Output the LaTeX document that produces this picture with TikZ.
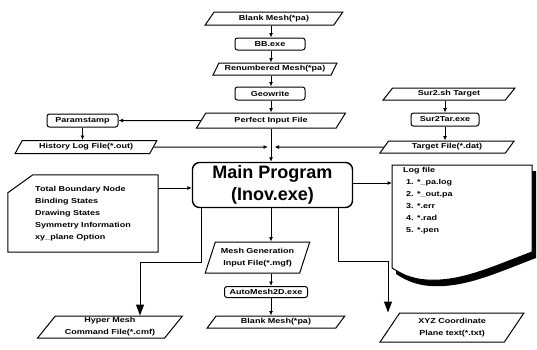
\documentclass[tikz,border=0pt]{standalone}
\usepackage{fontspec}
\setmainfont{Liberation Sans}
\newfontfamily\lblfont[FakeStretch=1.25]{Liberation Sans}
\usetikzlibrary{shapes.geometric,arrows.meta,calc}
\tikzset{
 lbl/.style={font=\lblfont\fontsize{7.2}{12}\selectfont\bfseries},
 io/.style={lbl, draw, line width=1pt, trapezium, trapezium left angle=52, trapezium right angle=128, trapezium stretches=true, inner sep=0pt, align=center},
 proc/.style={lbl, draw, line width=1pt, rounded corners=2.5pt, inner sep=0pt, align=center},
 mainbox/.style={draw, line width=1.4pt, rounded corners=7pt, inner sep=0pt, align=center, minimum width=160pt, minimum height=45pt, font=\fontsize{18}{22}\selectfont\bfseries},
 conn/.style={line width=1pt, -{Latex[length=4.5pt,width=4pt]}},
 bigconn/.style={line width=1pt, -{Triangle[length=11pt,width=8pt]}},
 plain/.style={line width=1pt},
}
\begin{document}
\begin{tikzpicture}[x=1pt,y=-1pt]
\useasboundingbox (0,0) rectangle (537,349);
% top chain
\node[io, minimum width=138pt, minimum height=13pt] (bm1) at (274,18.5) {Blank Mesh(*pa)};
\node[proc, minimum width=70pt, minimum height=12pt] (bb) at (270,44) {BB.exe};
\node[io, minimum width=124pt, minimum height=12pt] (rm) at (275,69) {Renumbered Mesh(*pa)};
\node[proc, minimum width=70pt, minimum height=13pt] (geo) at (270,93.5) {Geowrite};
\node[io, minimum width=150pt, minimum height=15pt] (pif) at (271,120.5) {Perfect Input File};
% left top
\node[proc, minimum width=71pt, minimum height=13pt] (par) at (82.5,120.5) {Paramstamp};
\node[io, minimum width=142pt, minimum height=13pt] (hlf) at (86,147) {History Log File(*.out)};
% right top
\node[io, minimum width=132pt, minimum height=12pt] (sst) at (449,94) {Sur2.sh Target};
\node[proc, minimum width=68pt, minimum height=13pt] (s2t) at (445,119.5) {Sur2Tar.exe};
\node[io, minimum width=135pt, minimum height=12pt] (tf) at (447,147) {Target File(*.dat)};
% main
\node[mainbox] (main) at (272.5,185) {Main Program\\(Inov.exe)};
% info box
\node[lbl, align=left, minimum width=150pt, minimum height=77pt, inner sep=0pt] (info) at (83,213.5)
 {Total Boundary Node\\Binding States\\Drawing States\\Symmetry Information\\xy\_plane Option};
\draw[plain] ($(info.north west)+(25,0)$) -- (info.north east) -- (info.south east) -- (info.south west) -- ($(info.north west)+(0,18)$) -- cycle;
% log file
\fill[black] (396,171) -- (536,171) -- (536,258) .. controls (494,274) and (464,288) .. (431,286) .. controls (414,285) and (404,279) .. (396,274) -- cycle;
\filldraw[fill=white, line width=1pt] (392,165) -- (532,165) -- (532,252) .. controls (490,268) and (460,282) .. (427,280) .. controls (410,279) and (400,273) .. (392,268) -- cycle;
\node[minimum width=140pt, minimum height=103pt, anchor=north west, inner sep=0pt] (log) at (392,165) {};
\node[lbl, align=left, anchor=north west, inner sep=0pt] (logtxt) at (403,167.5)
 {Log file\\\hspace{3pt}1. *\_pa.log\\\hspace{3pt}2. *\_out.pa\\\hspace{3pt}3. *.err\\\hspace{3pt}4. *.rad\\\hspace{3pt}5. *.pen};
% bottom
\node[io, trapezium left angle=65, trapezium right angle=115, minimum width=105pt, minimum height=31pt] (mg) at (257.5,257.5) {Mesh Generation\\Input File(*.mgf)};
\node[proc, minimum width=83pt, minimum height=11pt] (am) at (266,292) {AutoMesh2D.exe};
\node[io, minimum width=138pt, minimum height=12pt] (bm2) at (276,322) {Blank Mesh(*pa)};
\node[io, minimum width=145pt, minimum height=22pt] (hm) at (110,327) {Hyper Mesh\\Command File(*.cmf)};
\node[io, trapezium left angle=56, trapezium right angle=124, minimum width=145pt, minimum height=29pt] (xyz) at (452,327.5) {XYZ Coordinate\\Plane text(*.txt)};
% helper coordinates
\coordinate (cx) at (271,0);
\coordinate (jl) at (268,147);
\coordinate (jr) at (274.5,147);
\coordinate (r188) at (0,188);
\coordinate (r183) at (0,183);
\coordinate (sx) at (445,0);
\coordinate (xl) at (201,262);
\coordinate (xl2) at (140,262);
\coordinate (xr) at (338,261);
\coordinate (xr2) at (388,261);
% connectors top chain
\draw[conn] (cx |- bm1.south) -- (cx |- bb.north);
\draw[conn] (cx |- bb.south) -- (cx |- rm.north);
\draw[conn] (cx |- rm.south) -- (cx |- geo.north);
\draw[conn] (cx |- geo.south) -- (cx |- pif.north);
\draw[conn] (cx |- pif.south) -- (cx |- main.north);
\draw[conn] (pif.west) -- (par.east);
\draw[conn] (par.south) -- (par.south |- hlf.north);
\draw[conn] (hlf.east) -- (jl);
\draw[conn] (tf.west) -- (jr);
\draw[conn] (sx |- sst.south) -- (sx |- s2t.north);
\draw[conn] (sx |- s2t.south) -- (sx |- tf.north);
\draw[conn] (info.east |- r188) -- (main.west |- r188);
\draw[conn] (main.east |- r183) -- (log.west |- r183);
% bottom connectors
\draw[conn] (cx |- main.south) -- (cx |- mg.north);
\draw[conn] (cx |- mg.south) -- (cx |- am.north);
\draw[conn] (cx |- am.south) -- (cx |- bm2.north);
\draw[bigconn] (main.south -| xl) -- (xl) -- (xl2) -- (xl2 |- hm.north);
\draw[bigconn] (main.south -| xr) -- (xr) -- (xr2) -- (xr2 |- xyz.north);
\end{tikzpicture}
\end{document}
